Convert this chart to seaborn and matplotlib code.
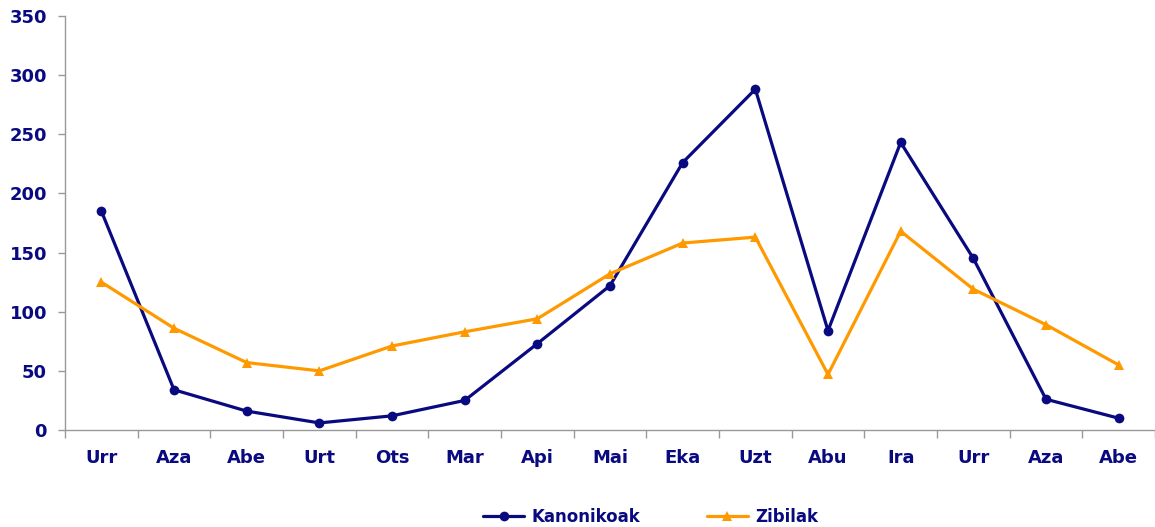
import numpy as np
import pandas as pd
import matplotlib
matplotlib.use('Agg')
import matplotlib.pyplot as plt
import seaborn as sns

# datuak
hilabeteak = ['Urr', 'Aza', 'Abe', 'Urt', 'Ots', 'Mar', 'Api', 'Mai',
              'Eka', 'Uzt', 'Abu', 'Ira', 'Urr', 'Aza', 'Abe']
kanonikoak = [185, 34, 16, 6, 12, 25, 73, 122, 226, 288, 84, 243, 145, 26, 10]
zibilak = [125, 86, 57, 50, 71, 83, 94, 132, 158, 163, 47, 168, 119, 89, 55]
y_ticks = [0, 50, 100, 150, 200, 250, 300, 350]

sns.set_theme(style='white')
plt.rcParams['font.family'] = ['DejaVu Sans']

navy = '#0a0a80'
orange = '#ff9900'

df = pd.DataFrame({
    'pos': list(range(len(hilabeteak))) * 2,
    'balioa': kanonikoak + zibilak,
    'serie': ['Kanonikoak'] * len(hilabeteak) + ['Zibilak'] * len(hilabeteak),
})

fig = plt.figure(figsize=(11.55, 5.27), dpi=100)
ax = fig.add_axes([0.0563, 0.184, 0.9437, 0.786])

sns.lineplot(data=df, x='pos', y='balioa', hue='serie', style='serie',
             palette={'Kanonikoak': navy, 'Zibilak': orange},
             markers={'Kanonikoak': 'o', 'Zibilak': '^'}, dashes=False,
             linewidth=2.3, markersize=7, markeredgewidth=0, ax=ax)

ax.set_xlim(-0.5, len(hilabeteak) - 0.5)
ax.set_ylim(0, 350)
ax.set_yticks(y_ticks)
ax.set_xticks(range(len(hilabeteak)))
ax.set_xticklabels(hilabeteak)
ax.set_xticks(np.arange(-0.5, len(hilabeteak), 1), minor=True)
ax.set_xlabel('')
ax.set_ylabel('')

for s in ['top', 'right']:
    ax.spines[s].set_visible(False)
for s in ['left', 'bottom']:
    ax.spines[s].set_color('#999999')
    ax.spines[s].set_linewidth(1)

ax.tick_params(axis='y', which='major', direction='out', length=5, width=1,
               color='#999999', labelsize=13, labelcolor=navy, pad=8, left=True)
ax.tick_params(axis='x', which='major', length=0, labelsize=13, labelcolor=navy, pad=14)
ax.tick_params(axis='x', which='minor', direction='out', length=6, width=1,
               color='#999999', bottom=True)
for lbl in ax.get_xticklabels() + ax.get_yticklabels():
    lbl.set_fontweight('bold')

handles, labels = ax.get_legend_handles_labels()
ax.legend(handles, labels, loc='center', bbox_to_anchor=(0.537, -0.21),
          ncol=2, frameon=False, handlelength=2.5, columnspacing=4,
          handletextpad=0.4, borderpad=0,
          prop={'weight': 'bold', 'size': 12}, labelcolor=navy)

fig.savefig('out.png', dpi=100)
